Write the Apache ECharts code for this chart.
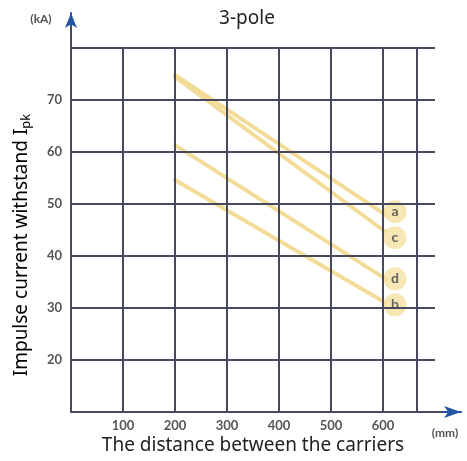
<!DOCTYPE html>
<html>
<head>
<meta charset="utf-8">
<script src="https://cdn.jsdelivr.net/npm/echarts@6/dist/echarts.min.js"></script>
<style>
  html, body { margin: 0; padding: 0; background: #fff; }
  #chart { width: 467px; height: 461px; }
</style>
</head>
<body>
<div id="chart"></div>
<script>
// Distance between carriers (mm) where each curve starts and ends
const lineEnds = [200, 605];
// Impulse current withstand (kA) at those distances
const curveA = [74.8, 47.9];
const curveB = [54.6, 31.0];
const curveC = [74.4, 44.6];
const curveD = [61.3, 35.6];
// Curve badges
const badgeNames = ['a', 'c', 'd', 'b'];
const badgeValues = [48.5, 43.5, 35.6, 30.6];
const badgeDistance = 623;
// Axis ticks
const xTicks = [100, 200, 300, 400, 500, 600];
const xGridExtra = [665];
const yTicks = [20, 30, 40, 50, 60, 70];
const yGrid = [20, 30, 40, 50, 60, 70, 80];

const GRID = '#474a5e';
const CURVE = '#f2dc98';
const BADGE = '#f4e1a2';
const ARROW = '#2454a6';

const pair = (vals) => lineEnds.map((x, i) => [x, vals[i]]);

const gridLines = [];
xTicks.concat(xGridExtra).forEach(x => gridLines.push([{ coord: [x, 10] }, { coord: [x, 80] }]));
yGrid.forEach(y => gridLines.push([{ coord: [0, y] }, { coord: [700, y] }]));
// axis shafts drawn in the grid colour over the blue arrow axes
gridLines.push([{ coord: [0, 10] }, { coord: [715, 10] }]);
gridLines.push([{ coord: [0, 10] }, { coord: [0, 84] }]);

const curveSeries = (name, vals) => ({
  name, type: 'line', data: pair(vals), symbol: 'none', z: 3,
  lineStyle: { color: CURVE, width: 4, cap: 'round' }, silent: true
});

const tickLabel = {
  color: '#555', fontFamily: 'Lato', fontWeight: 'bold', fontSize: 13
};

const chart = echarts.init(document.getElementById('chart'), null, { renderer: 'canvas' });
chart.setOption({
  animation: false,
  grid: { left: 71, right: 6, top: 13, bottom: 49 },
  xAxis: {
    type: 'value', min: 0, max: 750, interval: 100,
    axisLine: { show: true, symbol: ['none', 'arrow'], symbolSize: [9, 17], lineStyle: { color: ARROW, width: 2 } },
    axisTick: { show: false },
    splitLine: { show: false },
    axisLabel: Object.assign({
      margin: 7,
      formatter: v => (xTicks.indexOf(v) >= 0 ? String(v) : '')
    }, tickLabel)
  },
  yAxis: {
    type: 'value', min: 10, max: 86.7, interval: 10,
    axisLine: { show: true, symbol: ['none', 'arrow'], symbolSize: [9, 15], lineStyle: { color: ARROW, width: 2 } },
    axisTick: { show: false },
    splitLine: { show: false },
    axisLabel: Object.assign({
      margin: 9,
      formatter: v => (yTicks.indexOf(v) >= 0 ? String(v) : '')
    }, tickLabel)
  },
  series: [
    {
      type: 'line', data: [], z: 1, silent: true,
      markLine: {
        silent: true, symbol: 'none', label: { show: false },
        lineStyle: { color: GRID, width: 2, type: 'solid' },
        data: gridLines
      }
    },
    curveSeries('a', curveA),
    curveSeries('c', curveC),
    curveSeries('d', curveD),
    curveSeries('b', curveB),
    {
      type: 'scatter', z: 4, silent: true,
      symbolSize: 23,
      itemStyle: { color: BADGE },
      data: badgeNames.map((n, i) => ({ name: n, value: [badgeDistance, badgeValues[i]] })),
      label: {
        show: true, position: 'inside', formatter: p => p.name,
        color: '#444', fontFamily: 'Lato', fontWeight: 'bold', fontSize: 14
      }
    }
  ],
  graphic: [
    { type: 'text', x: 247, y: 19, style: { text: '3-pole', fontFamily: 'Noto Sans', fontSize: 19, fill: '#222', align: 'center', verticalAlign: 'middle' } },
    { type: 'text', x: 41, y: 19, style: { text: '(kA)', fontFamily: 'Lato', fontWeight: 'bold', fontSize: 12, fill: '#555', align: 'center', verticalAlign: 'middle' } },
    { type: 'text', x: 445, y: 433, style: { text: '(mm)', fontFamily: 'Lato', fontWeight: 'bold', fontSize: 12, fill: '#555', align: 'center', verticalAlign: 'middle' } },
    { type: 'text', x: 253, y: 446, style: { text: 'The distance between the carriers', fontFamily: 'Noto Sans', fontSize: 19, fill: '#222', align: 'center', verticalAlign: 'middle' } },
    {
      type: 'text', x: 22, y: 245, rotation: Math.PI / 2,
      style: {
        text: '{m|Impulse current withstand I}{s|pk}',
        align: 'center', verticalAlign: 'middle',
        rich: {
          m: { fontFamily: 'Noto Sans', fontSize: 19, color: '#222' },
          s: { fontFamily: 'Noto Sans', fontSize: 13, color: '#222', verticalAlign: 'bottom', padding: [8, 0, 0, 0] }
        }
      }
    }
  ]
});
</script>
</body>
</html>
